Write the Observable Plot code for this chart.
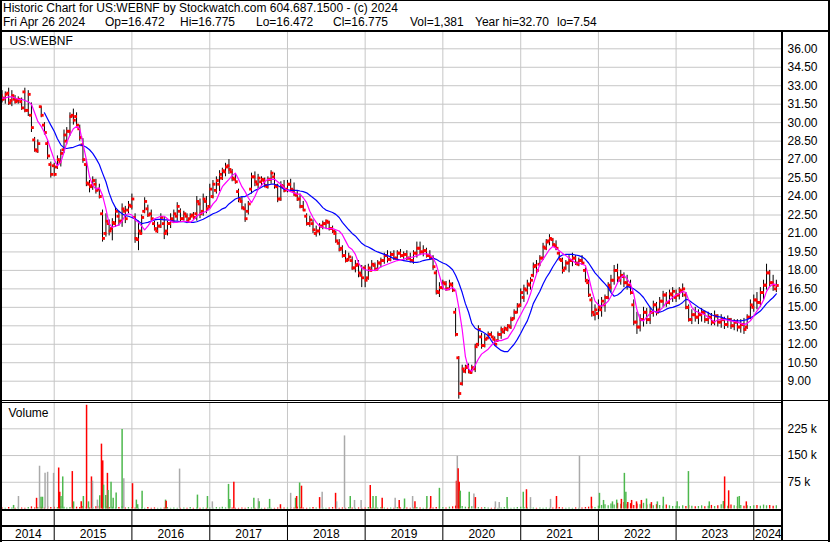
<!DOCTYPE html>
<html><head><meta charset="utf-8">
<script src="https://cdn.jsdelivr.net/npm/d3@7"></script>
<script src="https://cdn.jsdelivr.net/npm/@observablehq/plot@0.6"></script>
<style>
html,body{margin:0;padding:0;background:#fff;}
#root{position:relative;width:830px;height:543px;overflow:hidden;font-family:"Liberation Sans",Arial,sans-serif;font-size:12px;color:#000;background:#fff;}
.hl{position:absolute;background:#000;}
.t{position:absolute;white-space:pre;line-height:14px;font-size:12px;}
</style></head><body><div id="root"></div>
<script>
// ---------- categories ----------
const months = [
 "2014-05","2014-06","2014-07","2014-08","2014-09","2014-10","2014-11","2014-12",
 "2015-01","2015-02","2015-03","2015-04","2015-05","2015-06","2015-07","2015-08","2015-09","2015-10","2015-11","2015-12",
 "2016-01","2016-02","2016-03","2016-04","2016-05","2016-06","2016-07","2016-08","2016-09","2016-10","2016-11","2016-12",
 "2017-01","2017-02","2017-03","2017-04","2017-05","2017-06","2017-07","2017-08","2017-09","2017-10","2017-11","2017-12",
 "2018-01","2018-02","2018-03","2018-04","2018-05","2018-06","2018-07","2018-08","2018-09","2018-10","2018-11","2018-12",
 "2019-01","2019-02","2019-03","2019-04","2019-05","2019-06","2019-07","2019-08","2019-09","2019-10","2019-11","2019-12",
 "2020-01","2020-02","2020-03","2020-04","2020-05","2020-06","2020-07","2020-08","2020-09","2020-10","2020-11","2020-12",
 "2021-01","2021-02","2021-03","2021-04","2021-05","2021-06","2021-07","2021-08","2021-09","2021-10","2021-11","2021-12",
 "2022-01","2022-02","2022-03","2022-04","2022-05","2022-06","2022-07","2022-08","2022-09","2022-10","2022-11","2022-12",
 "2023-01","2023-02","2023-03","2023-04","2023-05","2023-06","2023-07","2023-08","2023-09","2023-10","2023-11","2023-12",
 "2024-01","2024-02","2024-03","2024-04"];
const halfDays = ["01","16"];
const yearNames = ["2014","2015","2016","2017","2018","2019","2020","2021","2022","2023","2024"];
const priceTicks = [9.00,10.50,12.00,13.50,15.00,16.50,18.00,19.50,21.00,22.50,24.00,25.50,27.00,28.50,30.00,31.50,33.00,34.50,36.00];
const volTicks = [75,150,225];

// ---------- price series (two values per month) ----------
const hi = [
 32.6,32.5,32.8,32.6,32.2,32.1,32.0,32.8,32.6,31.6,28.8,28.6,31.3,30.0,28.5,26.8,
 26.7,27.3,27.8,29.4,29.6,30.8,31.1,30.8,29.8,28.7,27.0,25.3,25.6,25.4,25.0,22.9,22.6,22.1,22.2,23.1,22.8,23.4,23.2,23.6,
 24.2,22.6,22.0,22.5,23.9,23.3,22.9,22.0,21.9,22.6,22.3,22.0,22.6,22.9,23.5,23.0,22.8,22.6,22.6,22.7,24.0,23.8,24.2,24.0,
 25.0,25.3,25.6,26.1,26.3,26.7,27.0,26.2,25.8,24.6,24.0,23.4,23.6,25.9,26.0,25.8,25.6,25.5,25.6,26.1,25.9,25.0,25.2,25.3,
 25.3,25.4,25.1,24.4,24.2,23.6,22.6,22.4,22.1,21.6,21.8,22.0,22.1,22.0,21.6,21.2,20.5,20.0,19.6,19.4,19.1,18.8,18.8,18.4,
 18.4,18.5,18.8,18.6,18.8,19.0,19.4,19.6,19.5,19.6,19.6,19.7,19.5,19.6,19.4,19.6,20.3,20.3,20.0,19.8,19.6,19.2,18.0,17.0,
 17.2,17.1,17.2,17.0,14.9,11.0,10.3,10.3,10.4,10.3,12.0,13.5,12.9,12.8,13.0,13.0,12.6,13.0,13.4,13.4,13.6,14.2,14.8,15.3,
 16.5,16.8,17.2,17.4,18.6,18.8,19.2,20.2,20.5,20.9,20.6,20.4,19.5,19.0,18.8,19.2,19.4,19.2,19.0,19.2,18.2,17.2,15.8,15.2,
 15.6,15.8,16.0,17.0,17.6,18.4,18.5,18.0,17.8,17.6,17.2,15.6,14.6,14.4,15.0,14.9,15.0,15.5,15.4,15.8,16.3,16.2,16.4,16.6,
 16.4,16.6,16.9,16.2,15.2,14.8,15.0,14.8,14.9,14.7,14.6,14.5,14.7,14.4,14.4,14.2,14.3,14.1,14.0,14.0,14.0,14.1,14.4,15.6,
 16.0,16.2,16.6,17.2,18.5,18.0,17.6,17.2];
const lo = [
 31.6,31.5,31.4,31.3,31.5,31.5,31.0,30.8,30.5,29.2,27.6,27.5,30.4,29.0,27.0,25.5,
 25.6,26.2,26.4,27.5,28.2,28.9,29.8,29.6,28.5,26.7,24.8,24.3,24.5,24.2,23.8,20.3,20.7,20.8,20.4,21.5,21.6,21.5,21.8,22.6,
 22.9,20.2,19.6,20.9,22.6,22.3,22.0,21.2,21.0,21.4,20.5,20.8,21.4,21.8,22.0,21.9,22.0,21.8,22.1,22.1,22.0,22.2,22.4,22.6,
 23.0,23.8,24.2,24.4,25.3,25.6,25.8,25.2,25.0,23.5,22.9,21.9,22.5,24.2,24.8,24.6,24.8,24.7,24.6,25.0,24.6,23.5,23.6,24.3,
 24.3,24.4,24.0,23.6,23.0,22.8,21.6,21.5,21.0,20.7,20.8,21.3,21.4,21.2,21.0,20.2,19.5,19.0,18.6,18.7,18.0,17.8,17.4,16.6,
 16.6,17.2,17.9,17.9,18.0,18.2,18.5,18.6,18.7,18.8,18.9,19.0,18.9,18.8,18.6,18.5,19.0,19.2,19.1,19.0,18.8,18.0,16.0,15.8,
 16.4,16.3,16.4,16.2,12.6,7.54,8.6,9.6,9.6,9.6,9.7,11.8,11.6,11.7,12.4,12.5,11.9,12.2,12.4,12.8,13.0,13.2,14.0,14.5,
 15.0,15.4,16.0,16.4,17.4,17.7,18.3,18.8,19.6,20.0,19.9,19.6,18.8,17.7,18.0,17.8,18.3,18.4,18.3,18.4,17.0,15.8,14.2,13.9,
 14.0,14.2,14.6,15.6,16.2,16.8,17.0,16.8,16.6,16.4,16.0,13.5,12.8,13.0,13.4,13.6,13.6,14.2,14.3,14.6,15.0,15.0,15.2,15.4,
 15.4,15.6,15.8,14.8,13.8,13.6,13.8,13.6,13.8,13.7,13.6,13.5,13.5,13.4,13.3,13.2,13.3,13.2,13.1,13.0,12.9,12.8,13.2,14.0,
 14.6,14.8,15.0,15.6,16.4,16.6,16.3,16.2];
const op = [
 32.2,32.0,32.4,31.8,31.9,31.8,31.7,32.5,31.0,30.6,28.6,27.7,31.3,29.8,28.3,26.6,
 26.5,26.4,26.8,27.8,28.5,29.3,30.6,30.5,29.5,28.2,26.6,25.0,24.9,25.0,24.6,22.6,21.0,21.8,21.4,21.8,22.4,22.0,22.8,22.9,
 23.2,22.3,20.5,21.0,22.8,23.0,22.6,21.8,21.2,21.6,21.8,21.2,21.8,22.0,22.4,22.8,22.2,22.4,22.2,22.5,22.6,23.4,22.8,23.6,
 23.2,24.0,24.5,25.0,25.5,26.0,26.5,26.0,25.4,24.4,23.6,23.0,22.8,24.6,25.6,25.0,25.2,25.3,24.8,25.4,25.6,24.8,23.8,24.8,
 24.6,25.0,24.5,24.1,23.8,23.2,22.4,21.8,21.8,21.0,21.2,21.6,21.8,21.9,21.4,21.0,20.2,19.8,19.2,18.9,18.8,18.2,18.5,17.6,
 18.2,17.4,18.0,18.4,18.1,18.6,18.8,19.2,18.9,19.3,19.0,19.4,19.2,19.3,19.0,18.8,19.4,19.8,19.5,19.6,19.2,19.0,17.8,16.2,
 16.6,16.9,16.5,16.8,14.6,10.9,8.8,9.8,10.2,9.7,10.0,12.0,12.6,11.9,12.5,12.8,12.4,12.3,12.8,13.0,13.2,13.4,14.1,14.6,
 15.2,15.8,16.4,16.8,17.6,18.4,18.5,19.0,19.8,20.4,20.5,20.0,19.4,18.8,18.2,18.6,18.8,19.0,18.5,18.8,18.0,17.0,15.6,14.4,
 14.5,14.8,15.2,15.8,16.6,17.2,18.0,17.2,17.5,17.0,16.8,15.2,13.8,13.4,14.0,14.6,14.0,14.6,15.2,14.8,15.5,16.0,15.4,16.0,
 15.8,16.0,16.3,16.0,15.0,14.0,14.4,14.2,14.4,14.6,14.0,14.2,13.8,14.3,13.8,14.0,13.6,14.0,13.5,13.8,13.4,13.6,13.4,14.2,
 15.0,15.6,15.4,16.2,16.8,17.8,17.0,16.5];
const cl = [
 31.9,32.3,31.6,32.2,31.7,31.9,31.2,31.0,32.3,29.6,27.8,28.3,30.6,29.2,27.3,25.8,
 25.8,27.0,27.5,29.0,29.3,30.5,30.2,29.8,28.8,27.0,25.1,24.8,25.3,24.5,24.0,20.6,22.0,21.2,21.9,22.8,22.0,23.0,22.2,23.3,
 23.8,20.6,21.2,22.3,23.6,22.5,22.2,21.4,21.6,22.3,21.0,21.8,22.2,22.6,23.2,22.2,22.6,22.0,22.4,22.3,23.6,22.6,23.8,23.0,
 24.6,25.0,25.3,25.8,26.1,26.4,26.2,25.5,25.2,23.8,23.1,22.2,23.4,25.6,25.2,25.5,25.4,24.9,25.4,25.9,24.9,23.8,24.9,24.5,
 25.0,24.6,24.2,23.8,23.2,22.9,21.8,22.1,21.3,21.2,21.6,21.8,22.0,21.4,21.2,20.4,19.7,19.2,18.8,19.1,18.2,18.4,17.8,17.4,
 17.2,18.2,18.5,18.1,18.6,18.8,19.2,18.9,19.3,19.0,19.4,19.2,19.3,19.0,18.8,19.4,19.8,19.5,19.6,19.2,19.0,18.3,16.3,16.6,
 17.0,16.5,16.9,16.4,12.8,8.0,10.0,10.1,9.8,10.1,11.8,13.2,11.9,12.4,12.8,12.6,12.0,12.8,13.2,13.3,13.5,14.0,14.6,15.1,
 16.2,16.5,16.9,17.2,18.3,18.0,19.0,19.9,20.3,20.6,20.1,19.8,18.9,18.0,18.6,18.8,19.0,18.6,18.8,18.6,17.2,16.0,14.6,14.8,
 15.0,15.5,15.8,16.8,17.2,18.0,17.4,17.6,17.0,16.8,16.2,13.8,13.4,14.0,14.6,14.0,14.6,15.2,14.6,15.5,16.0,15.4,16.1,16.3,
 16.0,16.4,16.5,15.0,14.0,14.4,14.2,14.4,14.6,14.0,14.2,13.8,14.3,13.8,14.0,13.6,14.0,13.5,13.8,13.4,13.6,13.2,14.2,15.2,
 15.6,15.4,16.2,16.8,17.8,17.0,16.8,16.775];
// magenta (short) and blue (long) moving-average lines
const maShort = [
 32.0,32.0,32.1,32.1,32.0,31.9,31.9,31.8,31.7,31.5,30.8,30.1,29.7,29.2,28.6,27.8,
 27.0,26.5,26.8,27.6,28.4,29.0,29.5,29.7,29.5,28.3,27.0,25.6,24.9,24.6,24.7,24.1,23.0,21.8,21.5,21.6,21.7,22.0,22.5,22.6,
 22.5,22.1,21.9,21.6,21.3,21.6,22.0,22.2,22.3,22.4,22.4,22.2,22.0,21.9,21.9,21.95,22.0,21.95,21.9,22.1,22.4,22.6,22.7,22.8,
 23.0,23.4,23.7,24.3,24.8,25.1,25.4,25.7,25.9,25.4,24.8,24.4,23.9,23.5,24.0,24.6,24.9,25.2,25.4,25.4,25.4,25.2,25.0,24.7,
 24.5,24.4,24.3,24.2,24.2,23.9,23.5,22.8,22.3,21.9,21.6,21.5,21.4,21.4,21.4,21.3,21.2,20.9,20.4,19.9,19.7,19.3,18.6,18.2,
 18.05,18.0,18.0,18.0,18.1,18.3,18.4,18.5,18.6,18.7,18.8,18.85,18.9,19.0,19.05,19.1,19.2,19.3,19.35,19.35,19.3,19.0,18.5,17.6,
 16.6,16.4,16.5,16.6,16.4,15.0,13.2,11.0,10.0,9.8,10.3,10.8,11.2,11.4,11.6,11.9,12.2,12.3,12.3,12.4,12.5,12.9,13.3,13.9,
 14.4,14.9,15.4,16.1,16.9,17.7,18.5,18.9,19.3,19.7,19.95,19.8,19.6,19.4,19.2,19.0,18.8,18.6,18.6,18.5,18.4,17.5,16.4,15.5,
 15.2,15.1,15.25,15.5,15.9,16.4,17.0,17.4,17.6,17.3,16.9,16.1,14.8,14.0,13.9,14.2,14.5,14.7,14.6,14.75,15.0,15.4,15.6,15.8,
 16.0,16.1,16.3,16.2,15.6,15.0,14.7,14.6,14.5,14.4,14.2,14.0,13.8,14.0,14.0,14.0,13.95,13.9,13.85,13.8,13.7,13.6,13.7,13.9,
 14.3,14.7,15.1,15.6,16.3,16.7,16.9,16.8];
const maLong = [
 null,null,null,null,null,null,null,null,null,null,null,null,null,30.8,30.3,29.8,
 29.3,28.7,28.2,27.95,27.9,27.95,28.0,28.1,28.2,28.15,28.0,27.8,27.5,27.1,26.6,25.9,25.2,24.3,23.6,23.1,22.8,22.6,22.45,22.4,
 22.3,22.2,22.0,21.8,21.85,21.9,22.0,22.1,22.15,22.15,22.1,22.1,22.05,22.0,22.0,21.95,21.95,21.9,21.9,21.9,21.95,22.05,22.15,22.3,
 22.45,22.6,22.7,22.85,23.0,23.1,23.4,23.6,23.8,23.9,24.0,24.0,24.15,24.3,24.5,24.6,24.75,24.9,24.95,25.0,25.0,24.9,24.75,24.6,
 24.55,24.5,24.5,24.5,24.45,24.4,24.3,24.1,23.9,23.7,23.4,23.1,22.9,22.8,22.7,22.55,22.3,21.9,21.6,21.3,21.0,20.8,20.5,20.2,
 20.0,19.9,19.75,19.6,19.5,19.4,19.3,19.2,19.1,18.95,18.9,18.85,18.8,18.75,18.7,18.65,18.65,18.7,18.8,18.85,18.9,19.0,18.9,18.75,
 18.6,18.5,18.3,18.05,17.6,17.0,16.2,15.3,14.6,13.7,13.3,13.15,13.05,12.9,12.7,12.3,11.9,11.7,11.5,11.4,11.4,11.7,12.0,12.4,
 12.9,13.4,13.9,14.6,15.3,15.8,16.3,16.9,17.4,17.8,18.3,18.7,19.1,19.25,19.3,19.3,19.3,19.25,19.2,19.1,18.9,18.6,18.2,17.8,
 17.5,17.2,16.9,16.6,16.2,15.9,16.0,16.2,16.5,16.7,16.6,16.5,16.3,16.1,15.8,15.4,15.0,14.7,14.6,14.6,14.7,14.85,14.95,15.0,
 15.1,15.2,15.4,15.65,15.6,15.4,15.2,15.0,14.85,14.7,14.55,14.4,14.3,14.25,14.2,14.1,14.0,13.95,13.9,13.9,13.9,13.95,14.0,14.15,
 14.3,14.5,14.7,15.0,15.3,15.55,15.8,16.1];
// typical (small) daily volume in each half month, thousands
const volBase = [
 3,2,4,3,2,5,3,2,4,6,3,4,5,3,6,4,
 5,4,6,5,3,4,6,5,4,7,5,3,4,6,8,5,6,4,5,3,4,6,3,4,
 4,3,2,3,2,4,2,3,2,2,3,4,2,3,2,2,3,2,4,2,3,2,3,2,
 3,2,4,3,5,3,2,3,2,2,3,2,4,3,2,3,2,2,3,2,2,3,2,3,
 3,4,3,5,4,3,2,3,4,3,2,3,2,3,4,3,2,3,2,4,3,2,3,2,
 3,4,3,2,3,4,3,2,3,2,4,3,2,3,2,3,4,3,2,3,2,3,4,5,
 4,3,5,6,8,10,7,5,4,6,5,4,3,4,3,2,3,2,3,4,3,2,3,4,
 5,4,3,4,3,2,3,2,3,2,3,2,4,3,2,3,2,3,2,3,4,5,6,4,
 8,10,12,9,14,11,16,13,18,12,15,10,14,12,16,11,13,9,12,10,8,11,9,7,
 8,6,9,7,10,8,6,7,9,6,8,10,7,9,12,10,8,11,9,7,10,8,9,7,
 9,10,8,11,9,10,8,9];

// ---------- notable volume days ----------
const volDays = [
 "2014-06-24","2014-07-17","2014-10-10","2014-10-24","2014-10-31","2014-11-07","2014-11-19","2014-12-01","2014-12-29",
 "2015-01-22","2015-01-27","2015-02-02","2015-02-10","2015-03-27","2015-04-02","2015-05-08","2015-05-18","2015-06-02","2015-06-11","2015-06-25","2015-06-30","2015-07-23","2015-08-03","2015-08-11","2015-08-17","2015-08-21","2015-08-31","2015-09-08","2015-09-11","2015-09-25","2015-10-05","2015-10-19","2015-11-16","2015-11-24",
 "2016-01-04","2016-01-22","2016-01-28","2016-02-18","2016-06-07","2016-06-10","2016-08-12","2016-11-04","2016-12-21",
 "2017-01-13","2017-03-30","2017-04-05","2017-04-24","2017-07-27","2017-08-17","2017-08-21","2017-10-09","2017-11-29",
 "2018-01-16","2018-02-08","2018-02-13","2018-02-27","2018-03-08","2018-06-01","2018-06-13","2018-08-15","2018-08-20","2018-09-26","2018-10-23","2018-11-12","2018-12-13",
 "2019-01-25","2019-02-07","2019-02-21","2019-03-22","2019-05-22","2019-06-10","2019-07-05","2019-08-12","2019-08-23","2019-10-18","2019-11-05","2019-12-16",
 "2020-03-05","2020-03-09","2020-03-13","2020-03-18","2020-03-23","2020-05-04","2020-05-26","2020-06-02","2020-09-04","2020-09-22","2020-10-29",
 "2021-01-13","2021-01-28","2021-02-16","2021-05-21","2021-06-18","2021-10-04","2021-11-29",
 "2022-01-06","2022-01-25","2022-03-08","2022-03-28","2022-04-19","2022-05-03","2022-05-10","2022-05-19","2022-06-06","2022-06-29","2022-07-22","2022-08-15","2022-09-07","2022-10-05","2022-11-02",
 "2023-01-06","2023-02-28","2023-06-06","2023-08-11","2023-08-17","2023-09-05","2023-10-17","2023-10-25","2023-11-27"];
const volK = [
 10,35,30,120,33,33,100,103,100,
 115,47,35,90,105,20,20,35,291,20,90,78,25,37,182,135,67,38,100,52,75,30,45,223,85,
 71,25,12,50,25,22,112,39,35,
 20,69,27,75,30,29,20,27,12,
 44,30,35,73,64,32,47,44,20,205,35,24,24,
 66,35,35,30,30,24,28,35,20,35,35,58,
 78,148,113,75,50,47,42,32,20,18,32,
 47,54,32,27,35,148,33,
 44,24,20,25,27,100,47,18,24,20,24,28,18,20,33,
 20,105,20,21,90,51,33,35,20];
// u = up (green), d = down (red), n = unchanged (grey)
const volDir = [
 "u","n","d","n","u","u","n","n","n",
 "d","d","u","u","d","u","d","u","d","u","d","n","n","u","d","d","u","u","d","u","u","u","u","u","n",
 "d","u","u","u","u","d","n","u","u",
 "n","u","u","d","u","n","u","u","d",
 "n","u","d","u","d","d","n","d","n","n","u","n","n",
 "d","u","u","d","n","d","u","n","d","u","d","u",
 "d","n","d","d","u","u","n","d","n","n","u",
 "u","d","n","n","d","n","d",
 "u","u","u","u","d","u","u","d","d","d","d","u","d","u","u",
 "u","u","u","u","d","d","u","u","d"];

// header texts
const titleLine = "Historic Chart for US:WEBNF by Stockwatch.com 604.687.1500 - (c) 2024";
const quoteFields = ["Fri Apr 26 2024", "Op=16.472", "Hi=16.775", "Lo=16.472", "Cl=16.775", "Vol=1,381", "Year hi=32.70", "lo=7.54"];

// ---------- build ----------
const L = [hi.length, lo.length, op.length, cl.length, maShort.length, maLong.length, volBase.length];
if (L.some(n => n !== months.length * 2)) throw new Error("length mismatch " + L.join(",") + " vs " + months.length*2);
if (volDays.length !== volK.length || volK.length !== volDir.length) throw new Error("vol mismatch " + [volDays.length, volK.length, volDir.length]);

const dirColor = {u: "#4db84d", d: "#ff0000", n: "#aaaaaa"};
const periods = months.flatMap(m => halfDays.map(d => new Date(m + "-" + d)));
const rows = periods.map((date, i) => ({
  date, hi: hi[i], lo: lo[i], op: op[i], cl: cl[i], fast: maShort[i], slow: maLong[i],
  v: volBase[i], c: cl[i] > op[i] ? dirColor.u : cl[i] < op[i] ? dirColor.d : dirColor.n
}));
const spikes = volDays.map((d, i) => ({date: new Date(d), v: volK[i], c: dirColor[volDir[i]]}));
const yearStarts = yearNames.slice(1).map(y => new Date(y + "-01-01"));
const d0 = new Date("2014-05-03"), d1 = new Date("2024-05-15");
const yearLabels = yearNames.map(y => {
  const a = Math.max(+new Date(y + "-01-01"), +d0);
  const b = Math.min(+new Date((+y + 1) + "-01-01"), +d1);
  return {name: y, mid: new Date((a + b) / 2)};
});

const grid = "#c6c6c6";
const font = '"Liberation Sans", Arial, sans-serif';
const baseStyle = {fontFamily: font, fontSize: "12px", background: "transparent", color: "#000", overflow: "visible"};
const xScale = {type: "utc", domain: [d0, d1], axis: null};

const price = Plot.plot({
  width: 830, height: 368, marginLeft: 2, marginRight: 48, marginTop: 0, marginBottom: 0,
  style: baseStyle,
  x: xScale,
  y: {domain: [9, 36], range: [348.7, 16.3], axis: null},
  marks: [
    Plot.ruleY(priceTicks, {stroke: grid, strokeWidth: 1}),
    Plot.ruleX(yearStarts, {stroke: grid, strokeWidth: 1}),
    Plot.ruleX(rows, {x: "date", y1: "lo", y2: "hi", stroke: "#000", strokeWidth: 1}),
    Plot.dot(rows, {x: "date", y: "op", symbol: "square", r: 1.6, fill: "#ff0000", dx: -1}),
    Plot.dot(rows, {x: "date", y: "cl", symbol: "square", r: 1.6, fill: "#ff0000", dx: 1}),
    Plot.line(rows.filter(d => d.slow != null), {x: "date", y: "slow", stroke: "#0000ff", strokeWidth: 1.2}),
    Plot.line(rows, {x: "date", y: "fast", stroke: "#ff00ff", strokeWidth: 1.2}),
    Plot.axisY(priceTicks, {anchor: "right", label: null, tickSize: 0, tickPadding: 5, tickFormat: d => d.toFixed(2), fontSize: 12}),
    Plot.text(["US:WEBNF"], {frameAnchor: "top-left", dx: 7, dy: 9, lineAnchor: "middle", fontSize: 12})
  ]
});

const volume = Plot.plot({
  width: 830, height: 106, marginLeft: 2, marginRight: 48, marginTop: 0, marginBottom: 0,
  style: baseStyle,
  x: xScale,
  y: {domain: [0, 225], range: [105.5, 25.3], axis: null, label: null},
  marks: [
    Plot.ruleY(volTicks, {stroke: grid}),
    Plot.ruleX(yearStarts, {stroke: grid}),
    Plot.ruleX(rows, {x: "date", y1: 0, y2: "v", stroke: "c", strokeWidth: 1.3}),
    Plot.ruleX(spikes, {x: "date", y1: 0, y2: "v", stroke: "c", strokeWidth: 1.5}),
    Plot.axisY(volTicks, {anchor: "right", label: null, tickSize: 0, tickPadding: 5, tickFormat: d => d + " k", fontSize: 12}),
    Plot.text(["Volume"], {frameAnchor: "top-left", dx: 6, dy: 10, lineAnchor: "middle", fontSize: 12})
  ]
});

const years = Plot.plot({
  width: 830, height: 30, marginLeft: 2, marginRight: 48, marginTop: 0, marginBottom: 0,
  style: baseStyle,
  x: xScale,
  marks: [
    Plot.ruleX(yearStarts, {stroke: "#000", strokeWidth: 1}),
    Plot.text(yearLabels, {x: "mid", text: "name", frameAnchor: "bottom", dy: -7, lineAnchor: "middle", fontSize: 12})
  ]
});

const root = document.getElementById("root");
function put(node, top) { node.style.position = "absolute"; node.style.left = "0px"; node.style.top = top + "px"; root.appendChild(node); }
put(price, 32);
put(volume, 403);
put(years, 511);

function line(x, y, w, h) { const d = document.createElement("div"); d.className = "hl"; Object.assign(d.style, {left: x + "px", top: y + "px", width: w + "px", height: h + "px"}); root.appendChild(d); }
function text(s, x, top) { const d = document.createElement("div"); d.className = "t"; d.textContent = s; d.style.left = x + "px"; d.style.top = top + "px"; root.appendChild(d); }

// header
text(titleLine, 3, 1);
const fieldX = [3, 105, 180, 256, 333, 410, 475, 557];
quoteFields.forEach((s, i) => text(s, fieldX[i], 15));

// frame lines
line(0, 0, 830, 1);
line(0, 0, 2, 542);
line(828, 0, 2, 542);
line(0, 30, 830, 2);
line(781, 30, 2, 511);
line(0, 400, 830, 1);
line(0, 402, 782, 1);
line(0, 509, 782, 2);
line(0, 525, 782, 2);
line(0, 540, 830, 1);
</script></body></html>
